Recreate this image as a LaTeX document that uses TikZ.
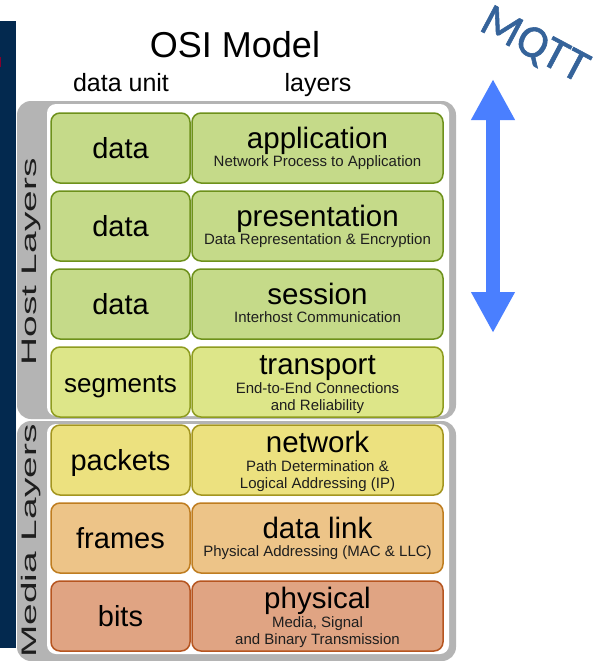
\documentclass[tikz,border=0pt]{standalone}
\usepackage{fontspec}
\setmainfont{Liberation Sans}
\newfontfamily\mqttfont[FakeBold=1.2]{Carlito}
\usetikzlibrary{arrows.meta,calc}

\definecolor{navy}{HTML}{03294F}
\definecolor{panelgray}{HTML}{B4B4B4}
\definecolor{labelink}{HTML}{1E1E1E}
\definecolor{mqttblue}{HTML}{35639A}
\definecolor{arrowblue}{HTML}{4A7FFF}
\definecolor{greenfill}{HTML}{C5DA89}
\definecolor{greenline}{HTML}{6E911B}
\definecolor{transfill}{HTML}{DDE689}
\definecolor{transline}{HTML}{8E9C1F}
\definecolor{netfill}{HTML}{ECE17F}
\definecolor{netline}{HTML}{A3951F}
\definecolor{linkfill}{HTML}{EDC488}
\definecolor{linkline}{HTML}{BF7D20}
\definecolor{physfill}{HTML}{E0A483}
\definecolor{physline}{HTML}{B65520}

\newcommand{\osifs}[1]{\fontsize{#1}{#1}\selectfont}

\tikzset{
  cellbox/.style={draw, line width=1.5pt, rounded corners=9pt, minimum height=70pt,
                  anchor=north west, inner sep=0pt, outer sep=0pt},
  unitbox/.style={cellbox, minimum width=139pt},
  layerbox/.style={cellbox, minimum width=251pt},
  appcol/.style={fill=greenfill, draw=greenline},
  transcol/.style={fill=transfill, draw=transline},
  netcol/.style={fill=netfill, draw=netline},
  linkcol/.style={fill=linkfill, draw=linkline},
  physcol/.style={fill=physfill, draw=physline},
  unittext/.style={anchor=base, inner sep=0pt, text=black},
  layertitle/.style={anchor=base, inner sep=0pt, text=black, font=\osifs{29.5}},
  layersub/.style={anchor=base, inner sep=0pt, text=labelink, font=\osifs{15}},
  sidelabel/.style={rotate=90, inner sep=0pt, text=labelink, font=\osifs{21}},
  heading/.style={anchor=base, inner sep=0pt, text=black},
}

% one row of the stack: #1 index, #2 data unit, #3 layer name,
% #4 first description line, #5 second description line (may be empty),
% #6 colour style, #7 size of the data unit word
\newcommand{\osilayer}[7]{%
  \node[unitbox,#6] (u#1) at (51,{113+78*#1}) {};
  \node[unittext, font=\osifs{#7}] (ut#1) at ([yshift=-10pt]u#1.center) {#2};
  \node[layerbox,#6] (l#1) at (192,{113+78*#1}) {};
  \if\relax\detokenize{#5}\relax
    \node[layertitle] (lt#1) at (l#1.center) {#3};
    \node[layersub] (ls#1) at ([yshift=-18pt]l#1.center) {#4};
  \else
    \node[layertitle] (lt#1) at ([yshift=8pt]l#1.center) {#3};
    \node[layersub] (ls#1) at ([yshift=-11pt]l#1.center) {#4};
    \node[layersub] (lsb#1) at ([yshift=-28pt]l#1.center) {#5};
  \fi
}

\begin{document}
\begin{tikzpicture}[x=1pt,y=-1pt]
\useasboundingbox (0,0) rectangle (604,661);
\fill[white] (0,0) rectangle (604,661);

% dark strip on the far left
\fill[navy] (0,21) rectangle (16,648);
\fill[purple!70!black] (0,57) rectangle (1.2,67);

% grey frames with white cards
\fill[panelgray, rounded corners=14pt] (17,101) rectangle (456,419);
\fill[white, rounded corners=9pt] (47,104) rectangle (449,416);
\fill[panelgray, rounded corners=14pt] (17,421) rectangle (456,661);
\fill[white, rounded corners=9pt] (47,424) rectangle (449,654);

% headings
\node[heading, font=\osifs{36}] (title) at (235,58) {OSI Model};
\node[heading, font=\osifs{25}] (unithead) at (121,91) {data unit};
\node[heading, font=\osifs{25}] (layerhead) at (318,91) {layers};

% side labels
\node[sidelabel] (host) at (31.5,262) {\scalebox{1.85}[1]{Host Layers}};
\node[sidelabel] (media) at (31.5,541) {\scalebox{1.85}[1]{Media Layers}};

% the seven layers
\osilayer{0}{data}{application}{Network Process to Application}{}{appcol}{29}
\osilayer{1}{data}{presentation}{Data Representation \& Encryption}{}{appcol}{29}
\osilayer{2}{data}{session}{Interhost Communication}{}{appcol}{29}
\osilayer{3}{segments}{transport}{End-to-End Connections}{and Reliability}{transcol}{26}
\osilayer{4}{packets}{network}{Path Determination \&}{Logical Addressing (IP)}{netcol}{29}
\osilayer{5}{frames}{data link}{Physical Addressing (MAC \& LLC)}{}{linkcol}{29}
\osilayer{6}{bits}{physical}{Media, Signal}{and Binary Transmission}{physcol}{29}

% MQTT span
\node[rotate=-28, text=mqttblue, inner sep=0pt, font=\mqttfont\osifs{46}] (mqtt) at (534,46) {MQTT};
\coordinate (mtop) at (493,79);
\coordinate (mbot) at (493,333);
\draw[arrowblue, line width=14pt,
      {Triangle[width=41pt,length=41pt]}-{Triangle[width=41pt,length=41pt]}]
      (mtop) -- (mbot);
\end{tikzpicture}
\end{document}
